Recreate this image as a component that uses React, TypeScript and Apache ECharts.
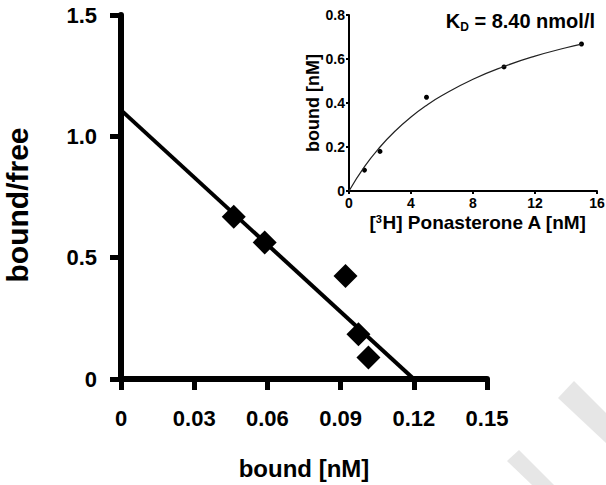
import React, { useEffect, useRef } from "react";
import * as echarts from "echarts";

// Scatchard plot (main)
const scatchardBound = [0.0462, 0.0589, 0.092, 0.0973, 0.1014];
const scatchardRatio = [0.669, 0.563, 0.424, 0.184, 0.089];
const fitLineX = [0, 0.12];
const fitLineY = [1.108, 0];
const mainXTicks = [0, 0.03, 0.06, 0.09, 0.12, 0.15];
const mainYTicks = [0, 0.5, 1.0, 1.5];

// Saturation plot (inset)
const satFree = [1, 2, 5, 10, 15];
const satBound = [0.095, 0.18, 0.426, 0.564, 0.668];
const curveFree = [0, 1, 2, 3, 4, 5, 6, 8, 10, 12, 14, 15];
const curveBound = [0, 0.111, 0.2, 0.274, 0.336, 0.389, 0.434, 0.508, 0.566, 0.613, 0.651, 0.668];
const kdLabel = "8.40 nmol/l";

const FONT = "Liberation Sans, Arial, Helvetica, sans-serif";

const axLine = (w: number) => ({ show: true, onZero: false, lineStyle: { color: "#000", width: w, type: "solid" } });
const axTick = (w: number, len: number) => ({ show: true, length: len, lineStyle: { color: "#000", width: w, type: "solid" } });

export default function App() {
  const ref = useRef<HTMLDivElement>(null);
  useEffect(() => {
    if (!ref.current) return;
    const chart = echarts.init(ref.current, undefined, { renderer: "svg" });
    const bold = { fontFamily: FONT, fontWeight: "bold" as const, color: "#000" };
    chart.setOption({
      animation: false,
      backgroundColor: "#fff",
      grid: [
        { left: 121, top: 15, width: 366, height: 364, containLabel: false, outerBoundsMode: "none" },
        { left: 349, top: 15, width: 248, height: 176, containLabel: false, outerBoundsMode: "none" },
      ],
      xAxis: [
        {
          gridIndex: 0,
          type: "value",
          min: mainXTicks[0],
          max: mainXTicks[mainXTicks.length - 1],
          interval: 0.03,
          splitLine: { show: false },
          axisLine: axLine(6),
          axisTick: axTick(5, 11),
          axisLabel: {
            ...bold,
            fontSize: 22,
            margin: 28,
            formatter: (v: number) => (v === 0 ? "0" : v.toFixed(2)),
          },
          name: "bound [nM]",
          nameLocation: "middle",
          nameGap: 77,
          nameTextStyle: { ...bold, fontSize: 24 },
        },
        {
          gridIndex: 1,
          type: "value",
          min: 0,
          max: 16,
          interval: 4,
          splitLine: { show: false },
          axisLine: axLine(2),
          axisTick: axTick(2, 3),
          axisLabel: { ...bold, fontSize: 14, margin: 5 },
          name: "[{sup|3}H] Ponasterone A [nM]",
          nameLocation: "middle",
          nameGap: 22,
          nameTextStyle: {
            ...bold,
            fontSize: 19,
            padding: [0, 0, 0, 10],
            rich: {
              sup: { ...bold, fontSize: 11, verticalAlign: "top", padding: [0, 0, 6, 0] },
            },
          },
        },
      ],
      yAxis: [
        {
          gridIndex: 0,
          type: "value",
          min: mainYTicks[0],
          max: mainYTicks[mainYTicks.length - 1],
          interval: 0.5,
          splitLine: { show: false },
          axisLine: axLine(6),
          axisTick: axTick(5, 11),
          axisLabel: {
            ...bold,
            fontSize: 22,
            margin: 24,
            formatter: (v: number) => (v === 0 ? "0" : v.toFixed(1)),
          },
          name: "bound/free",
          nameLocation: "middle",
          nameGap: 89,
          nameTextStyle: { ...bold, fontSize: 30, padding: [0, 16, 0, 0] },
        },
        {
          gridIndex: 1,
          type: "value",
          min: 0,
          max: 0.8,
          interval: 0.2,
          splitLine: { show: false },
          axisLine: axLine(2),
          axisTick: axTick(2, 3),
          axisLabel: {
            ...bold,
            fontSize: 14,
            margin: 4,
            formatter: (v: number) => (v === 0 ? "0" : v.toFixed(1)),
          },
          name: "bound [nM]",
          nameLocation: "middle",
          nameGap: 25,
          nameTextStyle: { ...bold, fontSize: 18 },
        },
      ],
      series: [
        {
          type: "line",
          xAxisIndex: 0,
          yAxisIndex: 0,
          data: fitLineX.map((x, i) => [x, fitLineY[i]]),
          symbol: "none",
          lineStyle: { color: "#000", width: 4 },
          z: 2,
        },
        {
          type: "scatter",
          xAxisIndex: 0,
          yAxisIndex: 0,
          data: scatchardBound.map((x, i) => [x, scatchardRatio[i]]),
          symbol: "diamond",
          symbolSize: [24, 24],
          itemStyle: { color: "#000", opacity: 1 },
          z: 3,
        },
        {
          type: "line",
          xAxisIndex: 1,
          yAxisIndex: 1,
          data: curveFree.map((x, i) => [x, curveBound[i]]),
          smooth: true,
          symbol: "none",
          lineStyle: { color: "#222", width: 1.2 },
        },
        {
          type: "scatter",
          xAxisIndex: 1,
          yAxisIndex: 1,
          data: satFree.map((x, i) => [x, satBound[i]]),
          symbol: "circle",
          symbolSize: 5,
          itemStyle: { color: "#000", opacity: 1 },
        },
      ],
      graphic: [
        {
          type: "polygon",
          shape: { points: [[558, 398], [574, 381], [606, 413], [606, 443]] },
          style: { fill: "#e6e6e6" },
          z: -1,
        },
        {
          type: "polygon",
          shape: { points: [[507, 461], [519, 450], [554, 485], [532, 485]] },
          style: { fill: "#e6e6e6" },
          z: -1,
        },
        {
          type: "text",
          right: 11,
          top: 11,
          style: {
            text: "{a|K}{s|D}{a| = " + kdLabel + "}",
            rich: {
              a: { ...bold, fontSize: 20, fill: "#000" },
              s: { ...bold, fontSize: 12, fill: "#000", padding: [11, 0, 0, 0] },
            },
          },
        },
      ],
    });
    return () => chart.dispose();
  }, []);
  return (
    <div
      ref={ref}
      style={{ position: "absolute", left: 0, top: 0, width: 606, height: 485 }}
    />
  );
}
